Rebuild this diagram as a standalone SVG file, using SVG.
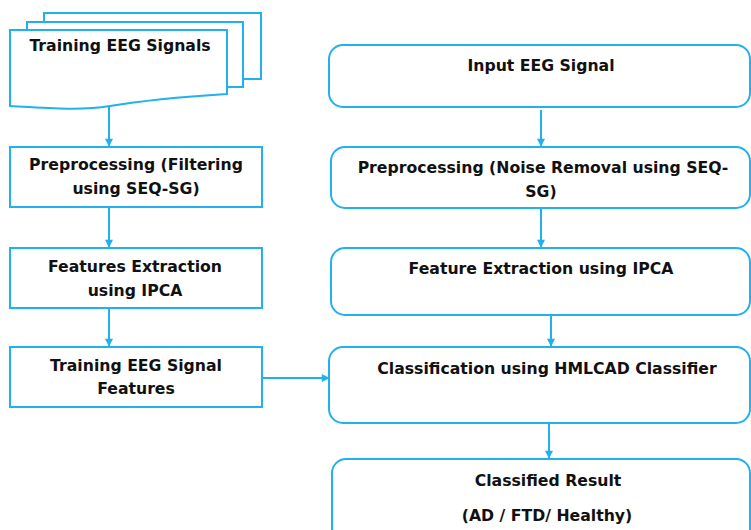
<svg xmlns="http://www.w3.org/2000/svg" width="751" height="530" viewBox="0 0 751 530">
<defs>
<style>
.b{fill:#fff;stroke:#22b0ee;stroke-width:2}
.c{fill:none;stroke:#22b0ee;stroke-width:2}
.t{font-family:"DejaVu Sans",Verdana,sans-serif;font-weight:bold;font-size:15.7px;fill:#111;text-anchor:middle}
</style>
<marker id="ah" viewBox="0 0 10 10" refX="9" refY="5" markerWidth="9" markerHeight="8" orient="auto" markerUnits="userSpaceOnUse">
<path d="M0,0 L10,5 L0,10 z" fill="#22b0ee"/>
</marker>
</defs>
<rect width="751" height="530" fill="#fff"/>
<g id="connectors">
<line class="c" x1="109" y1="107" x2="109" y2="146" marker-end="url(#ah)"/>
<line class="c" x1="109" y1="207" x2="109" y2="247" marker-end="url(#ah)"/>
<line class="c" x1="109" y1="308" x2="109" y2="346" marker-end="url(#ah)"/>
<line class="c" x1="262" y1="378" x2="329" y2="378" marker-end="url(#ah)"/>
<line class="c" x1="541" y1="110" x2="541" y2="146" marker-end="url(#ah)"/>
<line class="c" x1="541" y1="208" x2="541" y2="247" marker-end="url(#ah)"/>
<line class="c" x1="551" y1="315" x2="551" y2="346" marker-end="url(#ah)"/>
<line class="c" x1="549" y1="423" x2="549" y2="458" marker-end="url(#ah)"/>
</g>
<g id="training-signals">
<rect class="b" x="44" y="13" width="217" height="66"/>
<rect class="b" x="27" y="22" width="216" height="65"/>
<path class="b" d="M10,30 H227 V94 C180,97 140,101 110,106 C80,111 50,108 10,106 Z"/>
<text class="t" x="120" y="51">Training EEG Signals</text>
</g>
<g id="preprocessing-left">
<rect class="b" x="10" y="147" width="252" height="60"/>
<text class="t" x="136" y="170">Preprocessing (Filtering</text>
<text class="t" x="136" y="194">using SEQ-SG)</text>
</g>
<g id="features-left">
<rect class="b" x="10" y="248" width="252" height="60"/>
<text class="t" x="135" y="272">Features Extraction</text>
<text class="t" x="135" y="296">using IPCA</text>
</g>
<g id="training-features">
<rect class="b" x="10" y="347" width="252" height="60"/>
<text class="t" x="136" y="371">Training EEG Signal</text>
<text class="t" x="136" y="394">Features</text>
</g>
<g id="input-signal">
<rect class="b" x="329" y="45" width="421" height="62" rx="14"/>
<text class="t" x="541" y="71">Input EEG Signal</text>
</g>
<g id="preprocessing-right">
<rect class="b" x="331" y="147" width="419" height="61" rx="14"/>
<text class="t" x="543" y="173">Preprocessing (Noise Removal using SEQ-</text>
<text class="t" x="541" y="197">SG)</text>
</g>
<g id="feature-extraction-right">
<rect class="b" x="331" y="248" width="419" height="67" rx="14"/>
<text class="t" x="541" y="274">Feature Extraction using IPCA</text>
</g>
<g id="classification">
<rect class="b" x="329" y="347" width="421" height="76" rx="14"/>
<text class="t" x="547" y="374">Classification using HMLCAD Classifier</text>
</g>
<g id="result">
<rect class="b" x="332" y="459" width="418" height="90" rx="14"/>
<text class="t" x="548" y="486">Classified Result</text>
<text class="t" x="547" y="521">(AD / FTD/ Healthy)</text>
</g>
</svg>
